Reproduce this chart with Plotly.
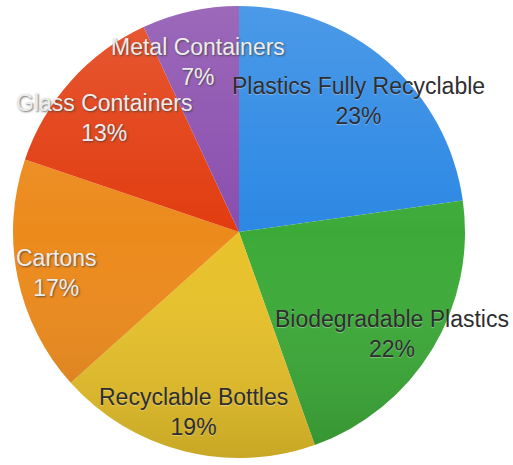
import base64
import plotly.graph_objects as go

# Share of collected recyclables by category (clockwise from 12 o'clock)
categories = ["Plastics Fully Recyclable", "Biodegradable Plastics", "Recyclable Bottles",
              "Cartons", "Glass Containers", "Metal Containers"]
shares = [23, 22, 19, 17, 13, 7]
colors = ["#2c88e4", "#3caa38", "#e8c22a", "#ec8a1c", "#e23c10", "#8a4eae"]

# label styling: dark text on light slices, light text on darker slices
label_dark = [True, True, True, False, False, False]
label_xy = [(358, 101), (392, 334), (193, 412), (56, 273), (104, 118), (198, 62)]

W, H = 513, 465
cx, cy, r = 239, 232, 226

fig = go.Figure(go.Pie(
    labels=categories,
    values=shares,
    sort=False,
    direction="clockwise",
    rotation=0,
    marker=dict(colors=colors, line=dict(width=0)),
    textinfo="none",
    hoverinfo="label+percent",
    showlegend=False,
    domain=dict(x=[(cx - r) / W, (cx + r) / W],
                y=[(H - cy - r) / H, (H - cy + r) / H]),
))

# soft vertical shading over the disc: lighter at the top, deeper at the bottom
shade_svg = (
    '<svg xmlns="http://www.w3.org/2000/svg" width="200" height="200" viewBox="0 0 200 200">'
    '<defs><linearGradient id="g" x1="0" y1="0" x2="0" y2="1">'
    '<stop offset="0" stop-color="#ffffff" stop-opacity="0.15"/>'
    '<stop offset="0.5" stop-color="#ffffff" stop-opacity="0"/>'
    '<stop offset="1" stop-color="#000000" stop-opacity="0.14"/>'
    '</linearGradient></defs>'
    '<circle cx="100" cy="100" r="100" fill="url(#g)"/></svg>'
)
fig.add_layout_image(
    source="data:image/svg+xml;base64," + base64.b64encode(shade_svg.encode()).decode(),
    xref="paper", yref="paper",
    x=(cx - r) / W, y=1 - (cy - r) / H,
    sizex=2 * r / W, sizey=2 * r / H,
    xanchor="left", yanchor="top",
    sizing="stretch", layer="above",
)

for name, val, dark, (px, py) in zip(categories, shares, label_dark, label_xy):
    fig.add_annotation(
        x=px / W, y=1 - py / H, xref="paper", yref="paper",
        text=f"{name}<br>{val}%",
        showarrow=False, align="center",
        xanchor="center", yanchor="middle",
        font=dict(family="Liberation Sans", size=23,
                  color="#2e2e2e" if dark else "#ececec",
                  shadow=("0px 1px 1px rgba(255,255,255,0.35)" if dark
                          else "1px 1px 2px rgba(60,60,60,0.75)")),
    )

fig.update_layout(
    width=W, height=H,
    margin=dict(l=0, r=0, t=0, b=0),
    paper_bgcolor="white", plot_bgcolor="white",
)

fig.write_html("out.html")
